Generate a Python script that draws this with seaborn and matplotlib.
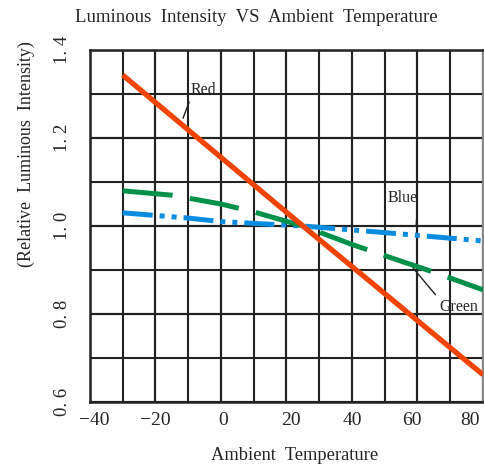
import numpy as np
import pandas as pd
import matplotlib
matplotlib.use("Agg")
import matplotlib.pyplot as plt
import matplotlib.transforms as mtransforms
import seaborn as sns

# values (normalised at 25 C)
red_t = [-30, 25, 80]
red_i = [1.343, 1.0, 0.662]

green_t = [-30, -15, 0, 10, 25, 40, 55, 65, 80]
green_i = [1.080, 1.070, 1.050, 1.032, 1.0, 0.958, 0.920, 0.895, 0.855]

blue_t = [-30, -10, 0, 25, 50, 80]
blue_i = [1.030, 1.018, 1.010, 1.0, 0.985, 0.966]

x_ticks = [-40, -20, 0, 20, 40, 60, 80]
x_labels = ["\u221240", "\u221220", "0", "20", "40", "60", "80"]
y_ticks = [0.6, 0.8, 1.0, 1.2, 1.4]
y_labels = ["0. 6", "0. 8", "1. 0", "1. 2", "1. 4"]

sns.set_style("white")
plt.rcParams["font.family"] = ["Liberation Serif", "DejaVu Serif"]

fig = plt.figure(figsize=(4.85, 4.68), dpi=100)
ax = fig.add_axes([90 / 485, 1 - 402 / 468, 393 / 485, 352 / 468])

df_red = pd.DataFrame({"t": red_t, "i": red_i})
df_green = pd.DataFrame({"t": green_t, "i": green_i})
df_blue = pd.DataFrame({"t": blue_t, "i": blue_i})

sns.lineplot(data=df_red, x="t", y="i", ax=ax, color="#f04400", lw=3.8,
             solid_capstyle="butt", zorder=5)
sns.lineplot(data=df_green, x="t", y="i", ax=ax, color="#00904a", lw=3.6,
             dashes=(10, 3.5), zorder=4)
sns.lineplot(data=df_blue, x="t", y="i", ax=ax, color="#0a8ce0", lw=3.6,
             dashes=(6, 1.4, 1, 1.4, 1, 1.4), zorder=3)

ax.set_xlim(-40, 80)
ax.set_ylim(0.6, 1.4)
ax.set_xticks(np.arange(-40, 81, 10), minor=True)
ax.set_yticks(np.arange(0.6, 1.41, 0.1), minor=True)
ax.xaxis.remove_overlapping_locs = False
ax.yaxis.remove_overlapping_locs = False
ax.grid(which="both", color="#222222", lw=1.5)
ax.set_xticks(x_ticks)
ax.set_xticklabels(x_labels, fontsize=14)
ax.set_yticks(y_ticks)
ax.set_yticklabels(y_labels, fontsize=13.5, rotation=90, va="center")
ax.tick_params(which="both", length=0)
ax.tick_params(axis="x", pad=7)
ax.tick_params(axis="y", pad=14)

# nudge the end labels inwards like the reference
shifts = [4, 0, 2, 4, 0, -6, -13]
for lab, dx in zip(ax.get_xticklabels(), shifts):
    lab.set_transform(lab.get_transform() +
                      mtransforms.ScaledTranslation(dx / 100, 0, fig.dpi_scale_trans))

for s in ["left", "bottom", "top"]:
    ax.spines[s].set_color("#222222")
    ax.spines[s].set_linewidth(1.8)
ax.spines["right"].set_color("#888888")
ax.spines["right"].set_linewidth(1.5)

ax.set_xlabel("Ambient  Temperature", fontsize=13.3, va="center")
ax.xaxis.set_label_coords((295 - 90) / 393, -(455 - 402) / 352)
ax.set_ylabel("(Relative  Luminous  Intensity)", fontsize=13)
ax.yaxis.set_label_coords(-(90 - 35) / 393, (402 - 154) / 352)
fig.text(256 / 485, 1 - 17 / 468, "Luminous  Intensity  VS  Ambient  Temperature",
         ha="center", va="center", fontsize=13.5)

def leader(rel):
    return dict(arrowstyle="-", color="#222222", lw=1.0, shrinkA=1, shrinkB=0,
                relpos=rel)

ax.annotate("Red", xy=(-11.6, 1.245), xytext=(-9.2, 1.292), fontsize=11.5,
            ha="left", va="bottom", arrowprops=leader((0, 0)), annotation_clip=False)
ax.annotate("Blue", xy=(59.6, 1.002), xytext=(60.0, 1.046), fontsize=11.5,
            ha="right", va="bottom", arrowprops=leader((1, 0)), annotation_clip=False)
ax.annotate("Green", xy=(58.6, 0.905), xytext=(66.6, 0.834), fontsize=11.5,
            ha="left", va="top", arrowprops=leader((0, 1)), annotation_clip=False)

fig.savefig("out.png", dpi=100)
